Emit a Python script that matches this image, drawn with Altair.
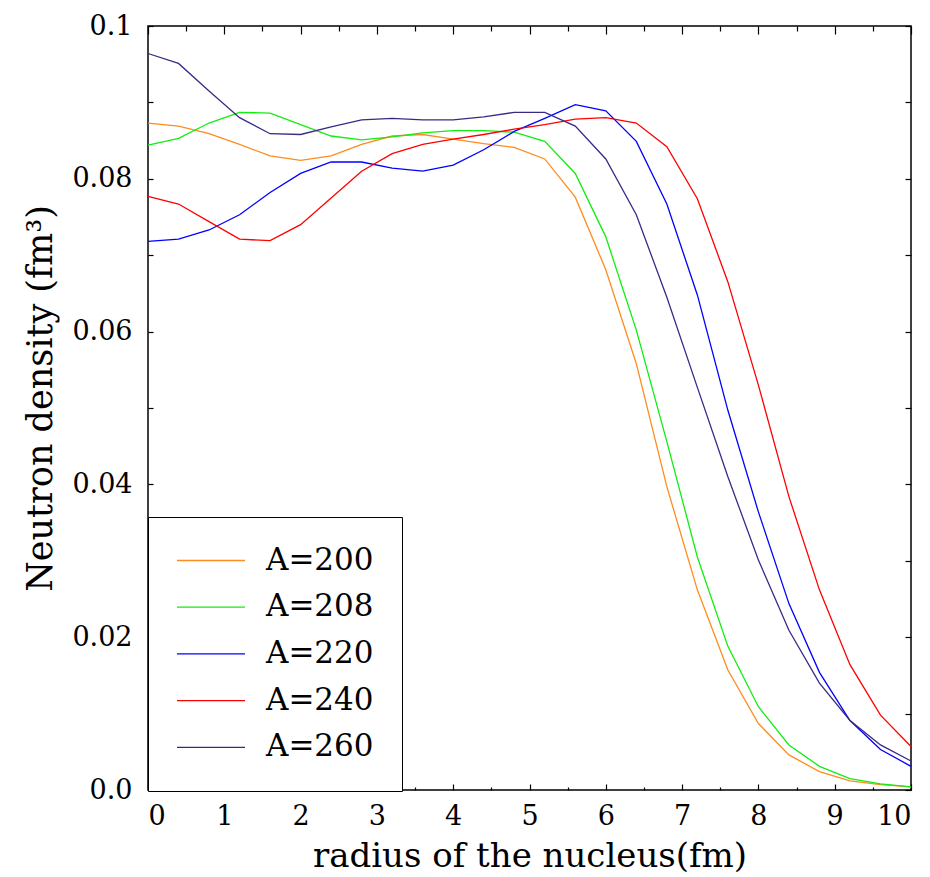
import altair as alt
import pandas as pd

radius = [0.0, 0.4, 0.8, 1.2, 1.6, 2.0, 2.4, 2.8, 3.2, 3.6, 4.0, 4.4, 4.8,
          5.2, 5.6, 6.0, 6.4, 6.8, 7.2, 7.6, 8.0, 8.4, 8.8, 9.2, 9.6, 10.0]

a200 = [0.0873, 0.0869, 0.0859, 0.0845, 0.0830, 0.0824, 0.0830, 0.0845, 0.0856,
        0.0858, 0.0852, 0.0846, 0.0841, 0.0826, 0.0776, 0.0681, 0.0558, 0.0397,
        0.0262, 0.0157, 0.0087, 0.0046, 0.0024, 0.0012, 0.0007, 0.0004]
a208 = [0.0844, 0.0853, 0.0873, 0.0887, 0.0886, 0.0871, 0.0856, 0.0851, 0.0855,
        0.0860, 0.0863, 0.0863, 0.0861, 0.0849, 0.0807, 0.0724, 0.0602, 0.0456,
        0.0305, 0.0188, 0.0109, 0.0059, 0.0031, 0.0015, 0.0008, 0.0004]
a220 = [0.0718, 0.0721, 0.0733, 0.0753, 0.0782, 0.0807, 0.0822, 0.0822, 0.0814,
        0.0810, 0.0818, 0.0838, 0.0862, 0.0879, 0.0897, 0.0889, 0.0849, 0.0767,
        0.0648, 0.0497, 0.0364, 0.0244, 0.0154, 0.0091, 0.0053, 0.0031]
a240 = [0.0777, 0.0767, 0.0744, 0.0721, 0.0719, 0.0740, 0.0775, 0.0810, 0.0833,
        0.0845, 0.0852, 0.0858, 0.0865, 0.0871, 0.0878, 0.0880, 0.0873, 0.0842,
        0.0774, 0.0665, 0.0530, 0.0384, 0.0262, 0.0164, 0.0098, 0.0057]
a260 = [0.0964, 0.0951, 0.0915, 0.0880, 0.0859, 0.0858, 0.0868, 0.0877, 0.0879,
        0.0877, 0.0877, 0.0881, 0.0887, 0.0887, 0.0869, 0.0826, 0.0753, 0.0645,
        0.0527, 0.0410, 0.0301, 0.0209, 0.0140, 0.0091, 0.0059, 0.0038]

series_names = ["A=200", "A=208", "A=220", "A=240", "A=260"]
series_values = [a200, a208, a220, a240, a260]
series_colors = ["#ff8c1e", "#10ee10", "#0000ff", "#ff0000", "#3b2a85"]

x_major = [0, 1, 2, 3, 4, 5, 6, 7, 8, 9, 10]
x_minor = [0.5, 1.5, 2.5, 3.5, 4.5, 5.5, 6.5, 7.5, 8.5, 9.5]
y_labels = [0.0, 0.02, 0.04, 0.06, 0.08, 0.1]
y_ticks = [0.0, 0.01, 0.02, 0.03, 0.04, 0.05, 0.06, 0.07, 0.08, 0.09, 0.1]

rows = []
for name, vals in zip(series_names, series_values):
    for r, v in zip(radius, vals):
        rows.append({"radius": r, "density": v, "series": name})
df = pd.DataFrame(rows)

W, H = 763, 764
FONT = "DejaVu Serif"

xs = alt.Scale(domain=[0, 10], nice=False, zero=False)
ys = alt.Scale(domain=[0, 0.1], nice=False, zero=False)

base = alt.Chart(df)

lines = base.mark_line(strokeWidth=1.3).encode(
    x=alt.X("radius:Q", scale=xs, axis=alt.Axis(
        orient="bottom", values=x_major, ticks=False, tickSize=0, domain=False, grid=False,
        labelFont=FONT, labelFontSize=27, labelPadding=13, labelColor="black",
        title="radius of the nucleus(fm)", titleFont=FONT, titleFontSize=34,
        titleFontWeight="normal", titleColor="black",
        titleBaseline="alphabetic", titleY=76)),
    y=alt.Y("density:Q", scale=ys, axis=alt.Axis(
        orient="left", values=y_labels, ticks=False, tickSize=0, domain=False, grid=False,
        labelFont=FONT, labelFontSize=27, labelPadding=16, labelColor="black",
        labelExpr="datum.value == 0 ? '0.0' : (datum.value == 0.1 ? '0.1' : format(datum.value, '.2f'))",
        title="Neutron density (fm³)", titleFont=FONT, titleFontSize=35,
        titleFontWeight="normal", titleColor="black",
        titleBaseline="alphabetic", titleX=-97, titleY=372)),
    color=alt.Color("series:N", scale=alt.Scale(domain=series_names, range=series_colors),
                    sort=series_names,
                    legend=alt.Legend(
                        orient="none", legendX=0, legendY=491, title=None,
                        fillColor="white", strokeColor="black", padding=28,
                        symbolType="stroke", symbolSize=4624, symbolStrokeWidth=1.3,
                        clipHeight=31,
                        labelFont=FONT, labelFontSize=31, labelColor="black",
                        labelOffset=20, rowPadding=14.7)),
    detail="series:N",
)


def tick_layer(xvals, xsize, xorient, yvals=None, ysize=None, yorient=None):
    xaxis = alt.Axis(orient=xorient, offset=-H, values=xvals, tickSize=xsize, labels=False,
                     domain=False, grid=False, title=None, tickColor="black", tickWidth=1.2)
    if yvals is None:
        yaxis = None
    else:
        yaxis = alt.Axis(orient=yorient, offset=-W, values=yvals, tickSize=ysize, labels=False,
                         domain=False, grid=False, title=None, tickColor="black", tickWidth=1.2)
    return base.mark_line(opacity=0).encode(
        x=alt.X("radius:Q", scale=xs, axis=xaxis),
        y=alt.Y("density:Q", scale=ys, axis=yaxis),
        detail="series:N",
    )


ticks_bottom = tick_layer(x_major, 6, "top", y_ticks, 5, "right")
ticks_top = tick_layer(x_major, 8, "bottom", y_ticks, 6, "left")
minor_bottom = tick_layer(x_minor, 3, "top")
minor_top = tick_layer(x_minor, 5, "bottom")

chart = alt.layer(ticks_bottom, ticks_top, minor_bottom, minor_top, lines).resolve_axis(
    x="independent", y="independent"
).properties(
    width=W, height=H,
    autosize=alt.AutoSizeParams(type="none"),
    padding={"left": 148, "top": 26, "right": 19, "bottom": 87},
    background="white",
).configure_view(
    stroke="black", strokeWidth=1.5
)

chart.save("out.html", embed_options={"renderer": "svg", "actions": False})
